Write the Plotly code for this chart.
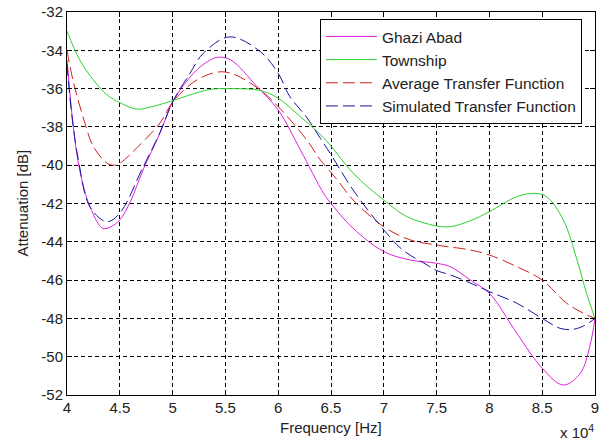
import plotly.graph_objects as go

# Frequency in units of x10^4 Hz
ghazi_x = [4.0, 4.06, 4.12, 4.22, 4.34, 4.42, 4.5, 4.6, 4.72, 4.88, 5.0, 5.165, 5.3, 5.42, 5.55, 5.8,
           6.0, 6.21, 6.43, 6.5, 6.71, 7.0, 7.25, 7.5, 7.63, 7.82, 8.0, 8.26, 8.5, 8.7, 8.86, 8.95, 9.0]
ghazi_y = [-34.5, -38.0, -40.25, -42.2, -43.3, -43.2, -42.86, -41.9, -40.25, -38.33, -36.7, -35.4, -34.7,
           -34.37, -34.5, -35.9, -37.12, -39.2, -41.47, -42.0, -43.3, -44.51, -44.95, -45.12, -45.3, -46.0,
           -46.69, -48.78, -50.6, -51.48, -50.87, -49.48, -48.0]

town_x = [4.0, 4.12, 4.25, 4.38, 4.5, 4.66, 4.8, 5.0, 5.165, 5.35, 5.55, 5.83, 6.0, 6.21, 6.4, 6.5,
          6.71, 7.0, 7.22, 7.5, 7.63, 7.82, 8.0, 8.26, 8.42, 8.54, 8.7, 8.83, 8.92, 9.0]
town_y = [-33.0, -34.5, -35.55, -36.33, -36.73, -37.07, -36.95, -36.63, -36.33, -36.05, -36.0, -36.1,
          -36.5, -37.47, -38.4, -39.0, -40.42, -41.82, -42.69, -43.17, -43.21, -42.9, -42.43, -41.64,
          -41.47, -41.64, -42.86, -44.95, -46.69, -48.0]

avg_x = [4.0, 4.06, 4.17, 4.25, 4.38, 4.45, 4.5, 4.66, 4.88, 5.0, 5.165, 5.3, 5.46, 5.6, 5.83, 6.0,
         6.27, 6.4, 6.55, 6.71, 7.0, 7.25, 7.5, 7.82, 8.0, 8.26, 8.5, 8.73, 8.89, 9.0]
avg_y = [-34.0, -35.64, -37.81, -39.03, -39.9, -40.0, -39.9, -39.1, -37.8, -36.7, -35.8, -35.35,
         -35.12, -35.3, -36.07, -36.94, -38.68, -39.73, -40.7, -41.82, -43.21, -43.9, -44.17, -44.43,
         -44.69, -45.3, -46.0, -47.2, -47.73, -48.0]

sim_x = [4.0, 4.04, 4.107, 4.22, 4.38, 4.5, 4.72, 4.88, 5.0, 5.165, 5.29, 5.54, 5.83, 6.0, 6.11,
         6.27, 6.4, 6.5, 6.71, 7.0, 7.18, 7.41, 7.5, 7.63, 7.79, 8.0, 8.26, 8.5, 8.67, 8.79, 8.89, 9.0]
sim_y = [-34.7, -37.1, -39.7, -42.2, -42.95, -42.5, -40.1, -38.3, -36.7, -35.2, -34.16, -33.3, -34.07,
         -35.2, -36.42, -37.5, -38.6, -39.45, -41.3, -43.38, -44.43, -45.21, -45.5, -45.73, -46.08,
         -46.6, -47.21, -48.0, -48.52, -48.57, -48.4, -48.0]

series_names = ["Ghazi Abad", "Township", "Average Transfer Function", "Simulated Transfer Function"]

x_ticks = [4, 4.5, 5, 5.5, 6, 6.5, 7, 7.5, 8, 8.5, 9]
x_ticktext = ["4", "4.5", "5", "5.5", "6", "6.5", "7", "7.5", "8", "8.5", "9"]
y_ticks = [-52, -50, -48, -46, -44, -42, -40, -38, -36, -34, -32]
y_ticktext = ["-52", "-50", "-48", "-46", "-44", "-42", "-40", "-38", "-36", "-34", "-32"]

FONT = "Liberation Sans, Arial, sans-serif"
TXT = "#222"

fig = go.Figure()
styles = [
    ("#e020e0", "solid"),
    ("#30d030", "solid"),
    ("#d02020", "12px,5px"),
    ("#1515a0", "12px,5px"),
]
for (xs, ys), name, (col, dash) in zip(
        [(ghazi_x, ghazi_y), (town_x, town_y), (avg_x, avg_y), (sim_x, sim_y)], series_names, styles):
    fig.add_trace(go.Scatter(x=xs, y=ys, mode="lines", name=name,
                             line=dict(color=col, width=1, dash=dash, shape="spline", smoothing=1.0)))

axis_common = dict(
    showline=True, linecolor="black", linewidth=1, mirror="ticks",
    ticks="inside", ticklen=5, tickcolor="black",
    showgrid=True, gridcolor="black", gridwidth=1, griddash="4px,3px",
    zeroline=False, automargin=False, tickfont=dict(family=FONT, size=15, color=TXT),
)

fig.update_xaxes(range=[4, 9], tickvals=x_ticks, ticktext=x_ticktext, ticklabelstandoff=-1, **axis_common)
fig.update_yaxes(range=[-52, -32], tickvals=y_ticks, ticktext=y_ticktext, ticklabelstandoff=0, **axis_common)

# axis titles
fig.add_annotation(xref="paper", yref="paper", x=0.5, y=0, yshift=-32, xanchor="center", yanchor="middle",
                   text="Frequency [Hz]", showarrow=False, font=dict(family=FONT, size=15, color=TXT))
fig.add_annotation(xref="paper", yref="paper", x=0, y=0.5, xshift=-45, xanchor="center", yanchor="middle",
                   text="Attenuation [dB]", textangle=-90, showarrow=False,
                   font=dict(family=FONT, size=15, color=TXT))
fig.add_annotation(xref="paper", yref="paper", x=1.0, y=0, yshift=-47, xanchor="right", yanchor="bottom",
                   text="x 10<sup>4</sup>", showarrow=False, borderpad=0,
                   font=dict(family=FONT, size=15, color=TXT))

fig.update_layout(
    width=605, height=443,
    margin=dict(l=67, r=10, t=12, b=48, autoexpand=False),
    paper_bgcolor="white", plot_bgcolor="white",
    font=dict(family=FONT, size=15, color=TXT),
    legend=dict(x=0.479, y=0.982, xanchor="left", yanchor="top",
                bgcolor="white", bordercolor="black", borderwidth=1,
                font=dict(family=FONT, size=15.5, color=TXT),
                tracegroupgap=0, itemwidth=51),
    showlegend=True,
)

fig.write_html("out.html", config={"displayModeBar": False},
               post_script="document.body.style.margin='0';")
